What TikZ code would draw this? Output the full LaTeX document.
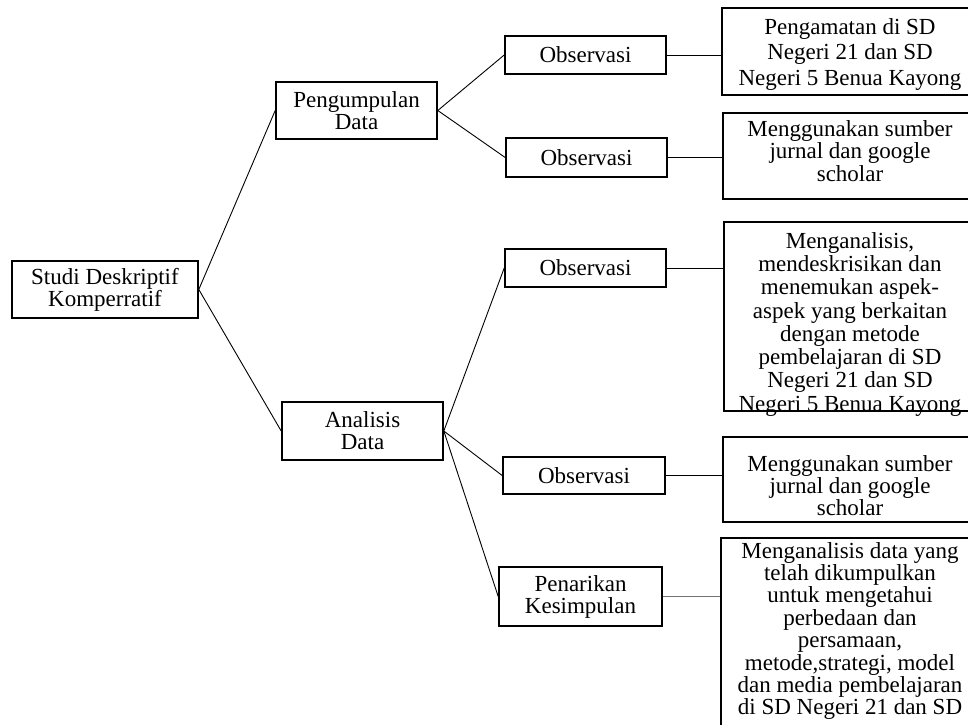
\documentclass[tikz,border=0pt]{standalone}
\usepackage{fontspec}
\setmainfont{Liberation Serif}
\tikzset{
  box/.style={draw=black, line width=1.6pt, rectangle, inner sep=0pt, align=center,
    font=\fontsize{23}{22}\selectfont},
  txt/.style={inner sep=0pt, anchor=north, align=center},
  conn/.style={draw=black, line width=0.9pt},
  connl/.style={draw=black!55, line width=1.1pt}
}
\begin{document}
\begin{tikzpicture}[x=1pt,y=-1pt]
\useasboundingbox (0,0) rectangle (968,724);
\clip (0,0) rectangle (968,724);
% left and middle boxes
\node[box, minimum width=186pt, minimum height=57pt] (studi) at (105,289.5) {Studi Deskriptif\\Komperratif};
\node[box, minimum width=161pt, minimum height=57pt] (peng) at (356.5,110.5) {Pengumpulan\\Data};
\node[box, minimum width=161pt, minimum height=58pt] (anal) at (362.5,431) {Analisis\\Data};
\node[box, minimum width=161pt, minimum height=38pt] (o1) at (585.5,55) {Observasi};
\node[box, minimum width=161pt, minimum height=39pt] (o2) at (586.5,157.5) {Observasi};
\node[box, minimum width=161pt, minimum height=38pt] (o3) at (585.5,268) {Observasi};
\node[box, minimum width=162pt, minimum height=37pt] (o4) at (584,475.5) {Observasi};
\node[box, minimum width=163pt, minimum height=59pt] (pen) at (580.5,596.5) {Penarikan\\Kesimpulan};
% right boxes (frames)
\node[box, minimum width=258pt, minimum height=87pt] (b1) at (851,51.5) {};
\node[box, minimum width=257pt, minimum height=86pt] (b2) at (851.5,156) {};
\node[box, minimum width=256pt, minimum height=189pt] (b3) at (852,316.5) {};
\node[box, minimum width=257pt, minimum height=85pt] (b4) at (851.5,479.5) {};
\node[box, minimum width=259pt, minimum height=222pt] (b5) at (850.5,649) {};
% right box texts
\node[txt, font=\fontsize{23}{25.5}\selectfont] (t1) at (850,18) {Pengamatan di SD\\Negeri 21 dan SD\\Negeri 5 Benua Kayong};
\node[txt, font=\fontsize{23}{22.5}\selectfont] (t2) at (850,120) {Menggunakan sumber\\jurnal dan google\\scholar};
\node[txt, font=\fontsize{23}{23.3}\selectfont] (t3) at (850,232) {Menganalisis,\\mendeskrisikan dan\\menemukan aspek-\\aspek yang berkaitan\\dengan metode\\pembelajaran di SD\\Negeri 21 dan SD\\Negeri 5 Benua Kayong};
\node[txt, font=\fontsize{23}{22}\selectfont] (t4) at (850,455) {Menggunakan sumber\\jurnal dan google\\scholar};
\node[txt, font=\fontsize{23}{22.4}\selectfont] (t5) at (850,542) {Menganalisis data yang\\telah dikumpulkan\\untuk mengetahui\\perbedaan dan\\persamaan,\\metode,strategi, model\\dan media pembelajaran\\di SD Negeri 21 dan SD};
% connectors
\draw[conn] (studi.east) -- (peng.west);
\draw[conn] (studi.east) -- (anal.west);
\draw[conn] (peng.east) -- (o1.west);
\draw[conn] (peng.east) -- (o2.west);
\draw[conn] (anal.east) -- (o3.west);
\draw[conn] (anal.east) -- (o4.west);
\draw[conn] (anal.east) -- (pen.west);
\draw[conn] (o1.east) -- (o1.east -| b1.west);
\draw[conn] (o2.east) -- (o2.east -| b2.west);
\draw[conn] (o3.east) -- (o3.east -| b3.west);
\draw[conn] (o4.east) -- (o4.east -| b4.west);
\draw[connl] (pen.east) -- (pen.east -| b5.west);
\end{tikzpicture}
\end{document}
